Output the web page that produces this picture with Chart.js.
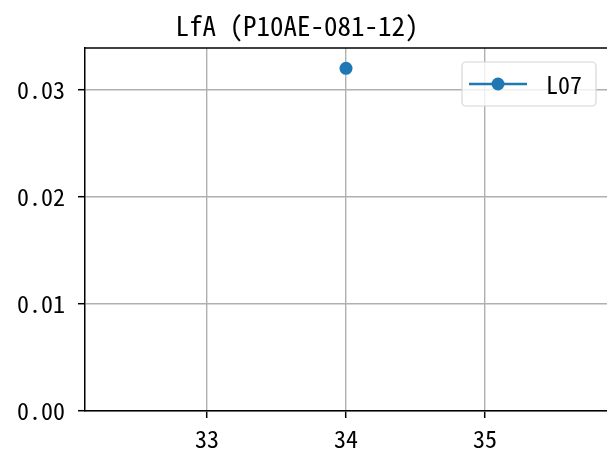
<!DOCTYPE html>
<html>
<head>
<meta charset="utf-8">
<script src="https://cdn.jsdelivr.net/npm/chart.js@4"></script>
<style>
  html, body { margin: 0; padding: 0; background: #fff; overflow: hidden; }
  #wrap { width: 607px; height: 456px; }
</style>
</head>
<body>
<div id="wrap"><canvas id="lfaChart" width="607" height="456"></canvas></div>
<script>
const chartTitle = 'LfA (P10AE-081-12)';
const seriesLabel = 'L07';
const xValues = [34];
const yValues = [0.032];
const xTicks = [33, 34, 35];
const yTicks = [0.00, 0.01, 0.02, 0.03];

const FONT = "'Noto Sans Mono CJK JP', 'Liberation Mono', monospace";
const BLUE = '#1f77b4';

/**
 * Title, top spine and in-axes legend (matplotlib style)
 */
const frameAndLegend = {
  id: 'frameAndLegend',
  afterDatasetsDraw(chart) {
    const { ctx, chartArea } = chart;
    ctx.save();

    // title, centred over the axes as matplotlib does
    ctx.fillStyle = '#000';
    ctx.font = '27px ' + FONT;
    ctx.textAlign = 'center';
    ctx.textBaseline = 'middle';
    ctx.fillText(chartTitle, 297, 26);

    ctx.strokeStyle = '#000';
    ctx.lineWidth = 1.5;
    ctx.beginPath();
    ctx.moveTo(chartArea.left, chartArea.top);
    ctx.lineTo(chartArea.right, chartArea.top);
    ctx.stroke();

    // legend box
    const bx = chartArea.right - 145, by = chartArea.top + 14, bw = 134, bh = 44;
    ctx.beginPath();
    ctx.roundRect(bx, by, bw, bh, 4);
    ctx.fillStyle = 'rgba(255,255,255,0.8)';
    ctx.fill();
    ctx.strokeStyle = '#d6d6d6';
    ctx.lineWidth = 1.2;
    ctx.stroke();

    const cy = by + bh / 2;
    ctx.strokeStyle = BLUE;
    ctx.lineWidth = 2.6;
    ctx.beginPath();
    ctx.moveTo(bx + 7, cy);
    ctx.lineTo(bx + 65, cy);
    ctx.stroke();
    ctx.fillStyle = BLUE;
    ctx.beginPath();
    ctx.arc(bx + 36, cy, 6.5, 0, Math.PI * 2);
    ctx.fill();

    ctx.fillStyle = '#000';
    ctx.font = '24px ' + FONT;
    ctx.textAlign = 'left';
    ctx.textBaseline = 'middle';
    ctx.fillText(chart.data.datasets[0].label, bx + 84, cy + 1);
    ctx.restore();
  }
};

new Chart(document.getElementById('lfaChart'), {
  type: 'scatter',
  data: {
    datasets: [{
      label: seriesLabel,
      data: xValues.map((x, i) => ({ x: x, y: yValues[i] })),
      backgroundColor: BLUE,
      borderColor: BLUE,
      borderWidth: 0,
      pointRadius: 6.5,
      pointHoverRadius: 6.5,
      showLine: true
    }]
  },
  options: {
    responsive: false,
    animation: false,
    layout: { autoPadding: false, padding: { left: 0, right: 0, top: 48, bottom: 0 } },
    plugins: {
      legend: { display: false },
      tooltip: { enabled: false },
      title: { display: false }
    },
    scales: {
      x: {
        type: 'linear',
        min: 32.122,
        max: 35.878,
        afterBuildTicks: (scale) => { scale.ticks = xTicks.map(v => ({ value: v })); },
        afterFit: (scale) => { scale.height = 45; },
        ticks: {
          includeBounds: false,
          color: '#000',
          padding: 6,
          font: { family: FONT, size: 24 },
          callback: (v) => String(v)
        },
        grid: { color: '#b0b0b0', lineWidth: 1.4, tickColor: '#000', tickLength: 7, tickWidth: 1.5 },
        border: { color: '#000', width: 1.5 }
      },
      y: {
        min: 0,
        max: 0.0339,
        afterBuildTicks: (scale) => { scale.ticks = yTicks.map(v => ({ value: v })); },
        afterFit: (scale) => { scale.width = 85; },
        ticks: {
          includeBounds: false,
          color: '#000',
          padding: 13,
          font: { family: FONT, size: 24 },
          callback: (v) => Number(v).toFixed(2)
        },
        grid: { color: '#b0b0b0', lineWidth: 1.4, tickColor: '#000', tickLength: 7, tickWidth: 1.5 },
        border: { color: '#000', width: 1.5 }
      }
    }
  },
  plugins: [frameAndLegend]
});
</script>
</body>
</html>
